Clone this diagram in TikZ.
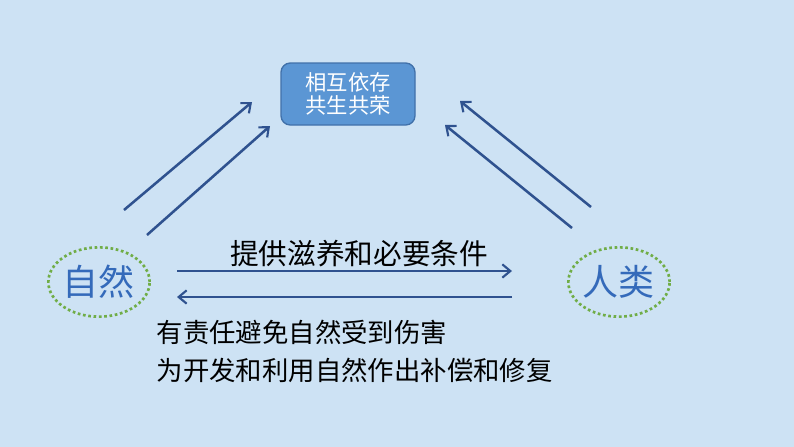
\documentclass[tikz,border=0pt]{standalone}
\usepackage{fontspec}
\newfontfamily\cjk{Noto Sans CJK SC}
\usetikzlibrary{arrows.meta,shapes.geometric}
\definecolor{bgblue}{RGB}{205,226,244}
\definecolor{boxfill}{RGB}{91,150,212}
\definecolor{boxline}{RGB}{65,113,170}
\definecolor{arrblue}{RGB}{47,82,143}
\definecolor{dotgreen}{RGB}{112,173,71}
\definecolor{bigblue}{RGB}{52,106,186}
\tikzset{
  topbox/.style={draw=boxline, line width=1pt, fill=boxfill, rounded corners=7pt,
    minimum width=100.5pt, minimum height=46.5pt, text=white, align=center,
    font=\cjk\fontsize{16}{20}\selectfont},
  ring/.style={ellipse, draw=dotgreen, line width=2pt, dotted,
    minimum width=76pt, minimum height=52pt, inner sep=0pt},
  bigword/.style={text=bigblue, font=\cjk\fontsize{27}{30}\selectfont},
  conn/.style={draw=arrblue, line width=1.9pt, -{Straight Barb[length=6pt,width=10pt,line width=1.6pt]}},
  caption/.style={font=\cjk\fontsize{19.8}{24}\selectfont, text=black, anchor=west},
  labeltext/.style={font=\cjk\fontsize{21.5}{24}\selectfont, text=black},
}
\begin{document}
\begin{tikzpicture}[x=0.75pt,y=-0.75pt]
\fill[bgblue] (0,0) rectangle (794,447);
\useasboundingbox (0,0) rectangle (794,447);
\node[topbox] (top) at (348,94) {相互依存\\[-3pt]共生共荣};
\node[ring] (nat) at (99,282) {};
\node[bigword] (natw) at (98,282) {自然};
\node[ring] (hum) at (619,282) {};
\node[bigword] (humw) at (618,282) {人类};
\coordinate (l1s) at (124,210);
\coordinate (l1e) at (252,102);
\coordinate (l2s) at (147,235);
\coordinate (l2e) at (270,126);
\coordinate (r1s) at (591,207);
\coordinate (r1e) at (460,101);
\coordinate (r2s) at (572,228);
\coordinate (r2e) at (445,125);
\draw[conn] (l1s) -- (l1e);
\draw[conn] (l2s) -- (l2e);
\draw[conn] (r1s) -- (r1e);
\draw[conn] (r2s) -- (r2e);
\coordinate (h1s) at (177,271);
\coordinate (h1e) at (512,271);
\coordinate (h2s) at (512,297);
\coordinate (h2e) at (177,297);
\draw[conn] (h1s) -- (h1e);
\node[labeltext] (lab) at (359,254) {提供滋养和必要条件};
\draw[conn] (h2s) -- (h2e);
\node[caption] (c1) at (152,332) {有责任避免自然受到伤害};
\node[caption] (c2) at (152,370) {为开发和利用自然作出补偿和修复};
\end{tikzpicture}
\end{document}
